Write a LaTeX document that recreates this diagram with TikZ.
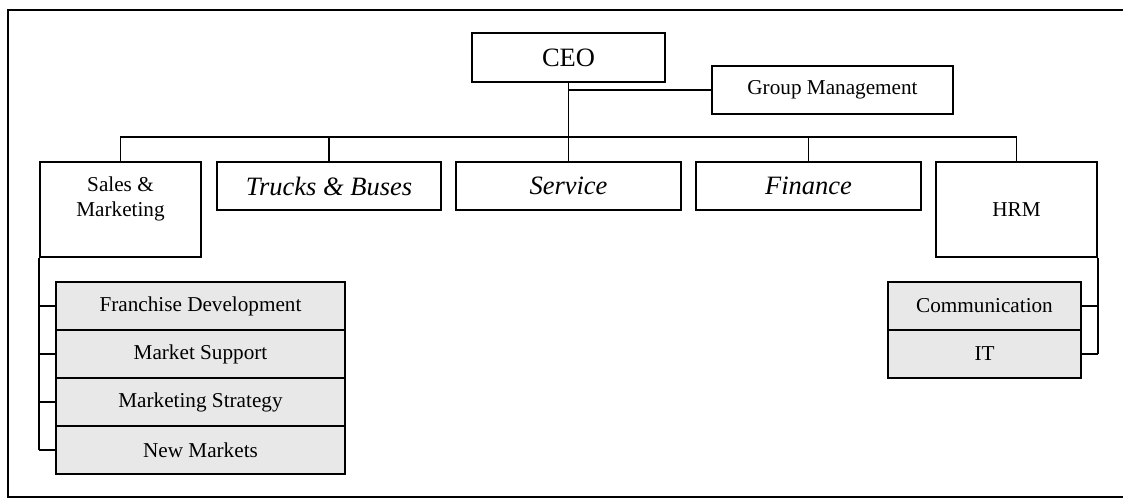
\documentclass[tikz,border=0pt]{standalone}
\usepackage{fontspec}
\setmainfont{Liberation Serif}
\definecolor{subfill}{HTML}{E8E8E8}
\begin{document}
\begin{tikzpicture}[x=1pt,y=-1pt,
  unitbox/.style={draw, line width=1.9pt, inner sep=0pt, align=center,
    font=\fontsize{21.2}{25}\selectfont},
  bigbox/.style={unitbox, font=\fontsize{26.5}{30}\selectfont},
  divbox/.style={unitbox, font=\fontsize{26.5}{30}\selectfont\itshape},
  subbox/.style={unitbox, fill=subfill},
  link/.style={line width=1.6pt}]
  \useasboundingbox (0,0) rectangle (1123,499);
  % outer frame
  \draw[line width=1.9pt] (8,10) rectangle (1140,497);

  % top level
  \node[bigbox, minimum width=193pt, minimum height=49pt] (ceo) at (568.5,57.5) {CEO};
  \node[unitbox, minimum width=241pt, minimum height=48pt] (gm) at (832.5,90) {Group Management};

  % divisions
  \node[unitbox, minimum width=161pt, minimum height=95pt] (sales) at (120.5,209.5) {Sales \&\\Marketing\\\mbox{}};
  \node[divbox, minimum width=224pt, minimum height=48pt] (trucks) at (329,186) {Trucks \& Buses};
  \node[divbox, minimum width=225pt, minimum height=48pt] (service) at (568.5,186) {Service};
  \node[divbox, minimum width=225pt, minimum height=48pt] (finance) at (808.5,186) {Finance};
  \node[unitbox, minimum width=161pt, minimum height=95pt] (hrm) at (1016.5,209.5) {HRM};

  % sales units
  \node[subbox, minimum width=289pt, minimum height=48pt] (fd) at (200.5,306) {Franchise Development};
  \node[subbox, minimum width=289pt, minimum height=48pt] (ms) at (200.5,354) {Market Support};
  \node[subbox, minimum width=289pt, minimum height=48pt] (mks) at (200.5,402) {Marketing Strategy};
  \node[subbox, minimum width=289pt, minimum height=48pt] (nm) at (200.5,450) {New Markets};

  % HRM units
  \node[subbox, minimum width=193pt, minimum height=48pt] (com) at (984.5,306) {Communication};
  \node[subbox, minimum width=193pt, minimum height=48pt] (it) at (984.5,354) {IT};

  % connectors
  \coordinate (bus) at (568.5,137);
  \draw[link] (ceo.south) -- (service.north);
  \draw[link] (ceo.south |- gm.west) -- (gm.west);
  \draw[link] (sales.north) -- (sales.north |- bus) -| (hrm.north);
  \draw[link] (trucks.north) -- (trucks.north |- bus);
  \draw[link] (finance.north) -- (finance.north |- bus);

  \draw[link] (sales.south west) -- (sales.south west |- nm.west);
  \foreach \n in {fd,ms,mks,nm}
    \draw[link] (sales.south west |- \n.west) -- (\n.west);

  \draw[link] (hrm.south east) -- (hrm.south east |- it.east);
  \foreach \n in {com,it}
    \draw[link] (hrm.south east |- \n.east) -- (\n.east);
\end{tikzpicture}
\end{document}
